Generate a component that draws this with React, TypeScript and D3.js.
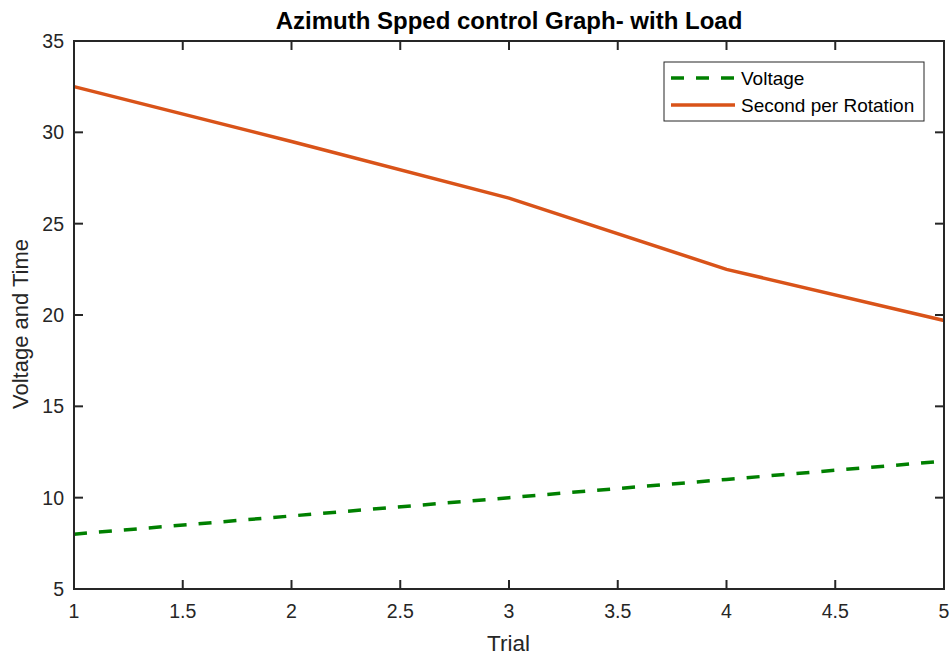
import React from "react";
import * as d3 from "d3";

const trials = [1, 2, 3, 4, 5];
const voltage = [8, 9, 10, 11, 12];
const secondsPerRotation = [32.5, 29.5, 26.4, 22.5, 19.7];
const xTicks = [1, 1.5, 2, 2.5, 3, 3.5, 4, 4.5, 5];
const yTicks = [5, 10, 15, 20, 25, 30, 35];

const W = 950, H = 655;
const L = 74, R = 944, T = 41, B = 589;
const font = "'Liberation Sans', Arial, Helvetica, sans-serif";

export default function App() {
  const x = d3.scaleLinear().domain([1, 5]).range([L, R]);
  const y = d3.scaleLinear().domain([5, 35]).range([B, T]);
  const line = d3.line<number>().x((_, i) => x(trials[i])).y((d) => y(d));
  const tk = 9;
  const axisColor = "#262626";
  return (
    <svg width={W} height={H} style={{ position: "absolute", left: 0, top: 0, background: "#fff" }}>
      <rect x={0} y={0} width={W} height={H} fill="#fff" />
      <path d={line(voltage) || ""} fill="none" stroke="#008000" strokeWidth={3.5} strokeDasharray="13,12" />
      <path d={line(secondsPerRotation) || ""} fill="none" stroke="#D95319" strokeWidth={3.5} />
      {xTicks.map((t) => (
        <g key={"x" + t}>
          <line x1={x(t)} x2={x(t)} y1={B} y2={B - tk} stroke={axisColor} strokeWidth={2} />
          <line x1={x(t)} x2={x(t)} y1={T} y2={T + tk} stroke={axisColor} strokeWidth={2} />
          <text x={x(t)} y={B + 29} textAnchor="middle" fontFamily={font} fontSize={19.5} fill={axisColor}>{t}</text>
        </g>
      ))}
      {yTicks.map((t) => (
        <g key={"y" + t}>
          <line x1={L} x2={L + tk} y1={y(t)} y2={y(t)} stroke={axisColor} strokeWidth={2} />
          <line x1={R} x2={R - tk} y1={y(t)} y2={y(t)} stroke={axisColor} strokeWidth={2} />
          <text x={L - 10} y={y(t) + 7} textAnchor="end" fontFamily={font} fontSize={19.5} fill={axisColor}>{t}</text>
        </g>
      ))}
      <rect x={L} y={T} width={R - L} height={B - T} fill="none" stroke={axisColor} strokeWidth={2} />
      <text x={509} y={29} textAnchor="middle" fontFamily={font} fontSize={24} fontWeight="bold" fill="#000">
        Azimuth Spped control Graph- with Load
      </text>
      <text x={508.5} y={651} textAnchor="middle" fontFamily={font} fontSize={22.5} fill={axisColor}>Trial</text>
      <text transform={`translate(28,324) rotate(-90)`} textAnchor="middle" fontFamily={font} fontSize={22} fill={axisColor}>
        Voltage and Time
      </text>
      <g>
        <rect x={664} y={62} width={260} height={59} fill="#fff" stroke="#262626" strokeWidth={1} />
        <line x1={671} x2={735} y1={78} y2={78} stroke="#008000" strokeWidth={3.5} strokeDasharray="13,12" />
        <line x1={671} x2={735} y1={105} y2={105} stroke="#D95319" strokeWidth={3.5} />
        <text x={741} y={85} fontFamily={font} fontSize={19} fill="#000">Voltage</text>
        <text x={741} y={112} fontFamily={font} fontSize={19} fill="#000">Second per Rotation</text>
      </g>
    </svg>
  );
}
